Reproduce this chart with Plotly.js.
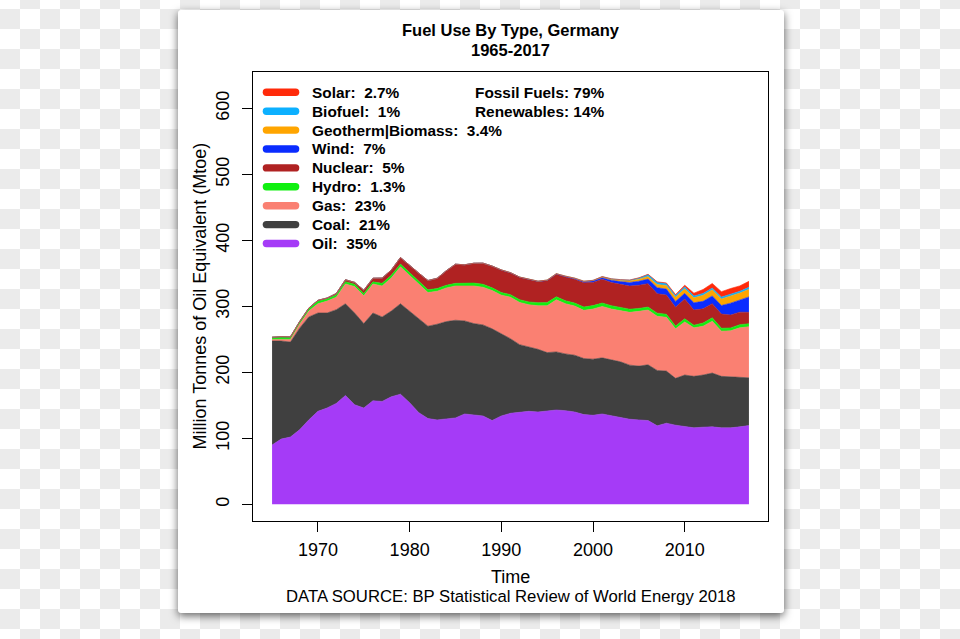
<!DOCTYPE html>
<html>
<head>
<meta charset="utf-8">
<script src="https://cdn.plot.ly/plotly-3.0.1.min.js"></script>
<style>
  html, body { margin: 0; padding: 0; }
  body {
    width: 960px; height: 639px; overflow: hidden; position: relative;
    background-color: #ffffff;
    background-image:
      linear-gradient(45deg, #ebebeb 25%, transparent 25%, transparent 75%, #ebebeb 75%),
      linear-gradient(45deg, #ebebeb 25%, transparent 25%, transparent 75%, #ebebeb 75%);
    background-size: 40px 40px;
    background-position: 0px -11px, 20px 9px;
  }
  #card {
    position: absolute; left: 178px; top: 10px; width: 606px; height: 603px;
    background: #ffffff; border-radius: 3px;
    box-shadow: 0 3px 9px rgba(0,0,0,0.6);
  }
  #chart { position: absolute; left: 0; top: 0; width: 960px; height: 639px; }
</style>
</head>
<body>
<div id="card"></div>
<div id="chart"></div>
<script>
// ---- data (Mtoe) ----
const years = [1965,1966,1967,1968,1969,1970,1971,1972,1973,1974,1975,1976,1977,1978,1979,
  1980,1981,1982,1983,1984,1985,1986,1987,1988,1989,1990,1991,1992,1993,1994,1995,1996,1997,
  1998,1999,2000,2001,2002,2003,2004,2005,2006,2007,2008,2009,2010,2011,2012,2013,2014,2015,2016,2017];

const oil = [90,99,102,113,128,141,146,153,165,151,146,157,156,163,167,
  154,139,130,128,129,131,137,135,134,127,134,138,140,141,140,141,143,142,
  140,136,135,137,134,131,129,128,127,119,123,120,118,116,117,117.5,116,116,117.5,119.4];

const coal = [157.5,148.5,144,154,156,149,144,142,139,139,128,133,128,130,137,
  139,143,140,145,148,148,141,139,138,139,125,113,102,98,95,89,88,86,
  86,85,85,85,84.5,85,82,81.5,84.5,84,79,71,78,78,79,81.5,78,77,74.5,72.4];

const gas = [2.5,3,4,6,9,14,18,19,30,40,42,44,47,50,56,
  54,52,51,50,51,52,53,57,57,58,58,63,64,63.5,66,71,79,76,
  74.5,73,76,78,77.5,78,80,83,83,82,81.5,75,80.5,73.5,74,78.5,68.5,70,75.5,77.5];

const hydro = [3.2,3.5,3.5,3.5,3.3,3.8,3.3,3.3,3.4,3.6,3.6,3.2,3.9,4.1,4.1,
  4.3,4.4,4.2,4.1,4.1,3.9,4.1,4.4,4.5,4.1,4.0,3.8,4.1,4.3,4.6,5.0,4.6,4.5,
  4.5,5.0,5.2,5.1,5.1,4.4,4.8,4.5,4.5,4.8,4.6,4.3,4.7,4.0,4.8,5.2,4.4,4.4,4.8,4.5];

const nuclear = [0,0.1,0.3,0.4,1.1,1.4,1.4,2.2,3,2.8,5,5.5,8,8,10,
  10.5,12,14,15.5,22,29,28,30,32,33,34,33,34,34,32,33,34,36,
  36,37,35,36,35,35,35,35,35.5,29.5,29,28.5,30,23,21.5,21.5,21.5,19.5,19,17.2];

const wind = [0,0,0,0,0,0,0,0,0,0,0,0,0,0,0,
  0,0,0,0,0,0,0,0,0,0,0.02,0.05,0.07,0.15,0.25,0.4,0.5,0.7,
  1.0,1.3,2.1,2.4,3.6,4.2,5.6,6.2,6.9,9.0,9.2,8.8,8.6,11.0,11.5,11.7,13.0,18.0,17.8,23.4];

const geotherm = [0,0,0,0,0,0,0,0,0,0,0,0,0,0,0,
  0,0,0,0,0,0,0,0,0,0,0.3,0.3,0.3,0.3,0.4,0.5,0.5,0.6,
  0.8,0.9,1.0,1.3,1.6,2.2,2.5,3.0,3.9,4.8,5.4,6.2,7.0,7.5,9.0,9.3,10.0,11.0,11.1,11.4];

const biofuel = [0,0,0,0,0,0,0,0,0,0,0,0,0,0,0,
  0,0,0,0,0,0,0,0,0,0,0,0,0,0,0,0,0,0,
  0,0,0.2,0.3,0.5,0.7,1.0,1.8,2.9,3.4,2.9,2.6,2.8,2.7,2.8,2.6,2.8,2.6,2.6,3.2];

const solar = [0,0,0,0,0,0,0,0,0,0,0,0,0,0,0,
  0,0,0,0,0,0,0,0,0,0,0,0,0,0,0,0,0,0,
  0,0,0.01,0.02,0.04,0.07,0.12,0.3,0.5,0.7,1.0,1.5,2.6,4.4,6.0,7.0,8.1,8.6,8.3,9.0];

const legendLabels = ["Solar:  2.7%","Biofuel:  1%","Geotherm|Biomass:  3.4%","Wind:  7%",
  "Nuclear:  5%","Hydro:  1.3%","Gas:  23%","Coal:  21%","Oil:  35%"];
const summaryLabels = ["Fossil Fuels: 79%","Renewables: 14%"];
const xTickVals = [1970,1980,1990,2000,2010];
const yTickVals = [0,100,200,300,400,500,600];

// ---- styling ----
const FONT = "Liberation Sans, Arial, Helvetica, sans-serif";
const series = [
  {name:"Oil", y:oil, color:"#a53bf7"},
  {name:"Coal", y:coal, color:"#404040"},
  {name:"Gas", y:gas, color:"#fa8072"},
  {name:"Hydro", y:hydro, color:"#10f010"},
  {name:"Nuclear", y:nuclear, color:"#b02222"},
  {name:"Wind", y:wind, color:"#0a2cff"},
  {name:"Geotherm|Biomass", y:geotherm, color:"#ffa500"},
  {name:"Biofuel", y:biofuel, color:"#0cb0ff"},
  {name:"Solar", y:solar, color:"#ff2a0a"}
];
const legendColors = ["#ff2a0a","#0cb0ff","#ffa500","#0a2cff","#b02222","#10f010","#fa8072","#404040","#a53bf7"];

const traces = series.map(s => ({
  type: "scatter", mode: "lines", x: years, y: s.y, name: s.name,
  stackgroup: "one", fillcolor: s.color,
  line: {color: s.color, width: 0.6, shape: "linear"},
  hoverinfo: "skip"
}));

// pixel geometry of the plot box
const L = 253, R = 768, T = 72, B = 521;
const px2x = p => (p - L) / (R - L);
const py2y = p => (B - p) / (B - T);

const annotations = [];
const shapes = [];

annotations.push({xref:"paper", yref:"paper", x:px2x(510.5), y:py2y(30), text:"<b>Fuel Use By Type, Germany</b>",
  showarrow:false, xanchor:"center", yanchor:"middle", font:{family:FONT, size:16.5, color:"#000"}});
annotations.push({xref:"paper", yref:"paper", x:px2x(510.5), y:py2y(50), text:"<b>1965-2017</b>",
  showarrow:false, xanchor:"center", yanchor:"middle", font:{family:FONT, size:16.5, color:"#000"}});
annotations.push({xref:"paper", yref:"paper", x:px2x(510.5), y:py2y(577), text:"Time",
  showarrow:false, xanchor:"center", yanchor:"middle", font:{family:FONT, size:18, color:"#000"}});
annotations.push({xref:"paper", yref:"paper", x:px2x(510.5), y:py2y(596), text:"DATA SOURCE: BP Statistical Review of World Energy 2018",
  showarrow:false, xanchor:"center", yanchor:"middle", font:{family:FONT, size:16.7, color:"#000"}});
annotations.push({xref:"paper", yref:"paper", x:px2x(199), y:py2y(296.5), text:"Million Tonnes of Oil Equivalent (Mtoe)",
  textangle:-90, showarrow:false, xanchor:"center", yanchor:"middle", font:{family:FONT, size:18, color:"#000"}});

const barPath = "M -14.6,-3.7 L 14.6,-3.7 Q 18.3,-3.7 18.3,0 Q 18.3,3.7 14.6,3.7 L -14.6,3.7 Q -18.3,3.7 -18.3,0 Q -18.3,-3.7 -14.6,-3.7 Z";
legendLabels.forEach((lab, i) => {
  const yc = 92.3 + 18.9 * i;
  shapes.push({type:"path", xref:"paper", yref:"paper", xsizemode:"pixel", ysizemode:"pixel",
    xanchor:px2x(281), yanchor:py2y(yc), path:barPath,
    fillcolor:legendColors[i], line:{width:0}});
  annotations.push({xref:"paper", yref:"paper", x:px2x(309.5), y:py2y(yc), text:"<b>"+lab+"</b>",
    showarrow:false, xanchor:"left", yanchor:"middle", font:{family:FONT, size:15.4, color:"#000"}});
});
summaryLabels.forEach((lab, i) => {
  const yc = 92.3 + 18.9 * i;
  annotations.push({xref:"paper", yref:"paper", x:px2x(472.5), y:py2y(yc), text:"<b>"+lab+"</b>",
    showarrow:false, xanchor:"left", yanchor:"middle", font:{family:FONT, size:15.4, color:"#000"}});
});

const layout = {
  width: 960, height: 639,
  margin: {l: L, r: 960 - R, t: T, b: 639 - B, pad: 0},
  paper_bgcolor: "rgba(0,0,0,0)", plot_bgcolor: "rgba(0,0,0,0)",
  showlegend: false,
  xaxis: {range:[1962.92, 2019.08], tickmode:"array", tickvals:xTickVals, ticktext:xTickVals.map(String),
    ticks:"outside", ticklen:10, tickwidth:1, tickcolor:"#000", ticklabelstandoff:2,
    showline:true, mirror:true, linecolor:"#000", linewidth:1, showgrid:false, zeroline:false,
    tickfont:{family:FONT, size:18, color:"#000"}},
  yaxis: {range:[-25.2, 655.2], tickmode:"array", tickvals:yTickVals, ticktext:yTickVals.map(String),
    ticks:"outside", ticklen:10, tickwidth:1, tickcolor:"#000", tickangle:-90, ticklabelstandoff:6,
    showline:true, mirror:true, linecolor:"#000", linewidth:1, showgrid:false, zeroline:false,
    tickfont:{family:FONT, size:18, color:"#000"}},
  annotations: annotations,
  shapes: shapes
};

Plotly.newPlot("chart", traces, layout, {staticPlot:true, displayModeBar:false});
</script>
</body>
</html>
